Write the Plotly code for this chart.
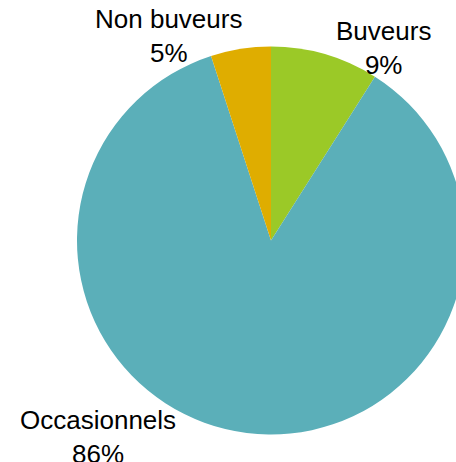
import plotly.graph_objects as go

# drinking habits breakdown
labels = ['Buveurs', 'Occasionnels', 'Non buveurs']
values = [9, 86, 5]
colors = ['#9BC927', '#5BAFB9', '#DFAD00']

# label anchor points (pixels in the 480x462 canvas)
label_pos = [(383, 48), (98, 437), (168, 36)]

W, H = 480, 462

fig = go.Figure()

fig.add_trace(go.Pie(
    labels=labels,
    values=values,
    marker=dict(colors=colors, line=dict(width=0)),
    sort=False,
    direction='clockwise',
    rotation=0,
    textinfo='none',
    hoverinfo='label+percent',
    showlegend=False,
    domain=dict(x=[77 / W, 465 / W], y=[1 - 435 / H, 1 - 46 / H]),
))

total = sum(values)
for lab, val, (px_x, px_y) in zip(labels, values, label_pos):
    fig.add_annotation(
        text=f"{lab}<br>{round(100 * val / total)}%",
        x=px_x / W,
        y=1 - px_y / H,
        xref='paper',
        yref='paper',
        xanchor='center',
        yanchor='middle',
        showarrow=False,
        font=dict(family='Liberation Sans, Arial, sans-serif', size=26, color='#000000'),
    )

fig.update_layout(
    width=W,
    height=H,
    margin=dict(l=0, r=0, t=0, b=0),
    paper_bgcolor='white',
    plot_bgcolor='white',
)

fig.write_html(
    "out.html",
    config={'displayModeBar': False},
    post_script="document.body.style.margin='0';document.body.style.overflow='hidden';",
)
